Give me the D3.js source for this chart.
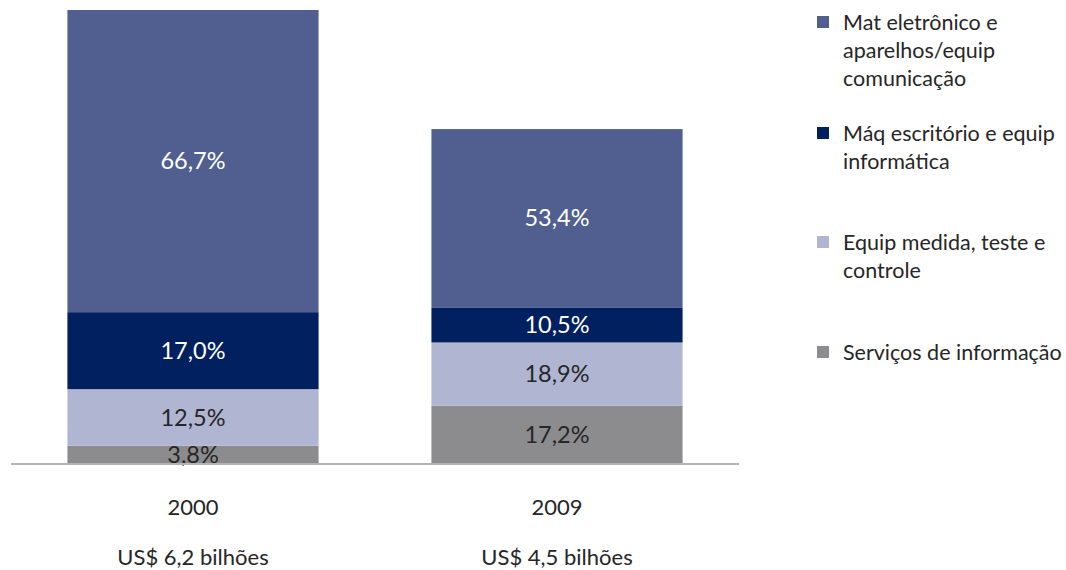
<!DOCTYPE html>
<html>
<head>
<meta charset="utf-8">
<script src="https://cdn.jsdelivr.net/npm/d3@7"></script>
<style>
  body { margin: 0; background: #fff; }
  text { font-family: Lato, "Open Sans", sans-serif; }
</style>
</head>
<body>
<div id="chart"></div>
<script>
// data
var years = ["2000", "2009"];
var totalLabels = ["US$ 6,2 bilhões", "US$ 4,5 bilhões"];
var barTotals = [6.2, 4.57];   // bar heights in US$ billions (as drawn)
var categories = [
  "Serviços de informação",
  "Equip medida, teste e controle",
  "Máq escritório e equip informática",
  "Mat eletrônico e aparelhos/equip comunicação"
];
var share2000 = [3.8, 12.5, 17.0, 66.7];
var share2009 = [17.2, 18.9, 10.5, 53.4];
var legendLines = [
  ["Mat eletrônico e", "aparelhos/equip", "comunicação"],
  ["Máq escritório e equip", "informática"],
  ["Equip medida, teste e", "controle"],
  ["Serviços de informação"]
];

var colors = ["#8c8c8e", "#b0b6d2", "#002060", "#505f8f"];
var labelColors = ["#262626", "#262626", "#ffffff", "#ffffff"];

var width = 1066, height = 570;
var svg = d3.select("#chart").append("svg")
  .attr("width", width)
  .attr("height", height);

var x = d3.scaleBand()
  .domain(years)
  .range([11, 739])
  .paddingInner(0.31)
  .paddingOuter(0.155);

var y = d3.scaleLinear()
  .domain([0, 6.2])
  .range([463, 10]);

// build rows: one per year, segment value = share * total
var rows = years.map(function (yr, i) {
  var shares = i == 0 ? share2000 : share2009;
  var row = { year: yr };
  categories.forEach(function (c, k) {
    row[c] = shares[k] / 100 * barTotals[i];
    row[c + "_pct"] = shares[k];
  });
  return row;
});

var stack = d3.stack().keys(categories);
var series = stack(rows);

var layer = svg.selectAll(".layer")
  .data(series)
  .enter()
  .append("g")
  .attr("class", "layer")
  .attr("fill", function (d, i) { return colors[i]; });

layer.selectAll("rect")
  .data(function (d) { return d; })
  .enter()
  .append("rect")
  .attr("x", function (d) { return x(d.data.year); })
  .attr("width", x.bandwidth())
  .attr("y", function (d) { return y(d[1]); })
  .attr("height", function (d) { return y(d[0]) - y(d[1]); });

layer.each(function (s, i) {
  d3.select(this).selectAll("text")
    .data(s)
    .enter()
    .append("text")
    .attr("x", function (d) { return x(d.data.year) + x.bandwidth() / 2; })
    .attr("y", function (d) { return (y(d[0]) + y(d[1])) / 2; })
    .attr("dy", "0.35em")
    .attr("text-anchor", "middle")
    .style("font-size", "23.5px")
    .attr("fill", labelColors[i])
    .text(function (d) {
      return d3.format(".1f")(d.data[s.key + "_pct"]).replace(".", ",") + "%";
    });
});

// baseline
svg.append("line")
  .attr("x1", 11).attr("x2", 739)
  .attr("y1", 464).attr("y2", 464)
  .attr("stroke", "#b3b3b3")
  .attr("stroke-width", 2);

// category labels
var xAxis = svg.append("g");
xAxis.selectAll(".year")
  .data(years)
  .enter()
  .append("text")
  .attr("x", function (d) { return x(d) + x.bandwidth() / 2; })
  .attr("y", 515)
  .attr("text-anchor", "middle")
  .style("font-size", "22px")
  .attr("fill", "#262626")
  .text(function (d) { return d; });

xAxis.selectAll(".total")
  .data(totalLabels)
  .enter()
  .append("text")
  .attr("x", function (d, i) { return x(years[i]) + x.bandwidth() / 2; })
  .attr("y", 565)
  .attr("text-anchor", "middle")
  .style("font-size", "22px")
  .attr("fill", "#262626")
  .text(function (d) { return d; });

// legend
var legendTop = [22, 133, 242, 352];
var legend = svg.selectAll(".legend")
  .data(legendLines)
  .enter()
  .append("g")
  .attr("class", "legend")
  .attr("transform", function (d, i) { return "translate(817," + legendTop[i] + ")"; });

legend.append("rect")
  .attr("x", 0).attr("y", -6)
  .attr("width", 12).attr("height", 12)
  .attr("fill", function (d, i) { return colors[3 - i]; });

legend.each(function (lines) {
  d3.select(this).selectAll("text")
    .data(lines)
    .enter()
    .append("text")
    .attr("x", 26)
    .attr("y", function (d, j) { return j * 28; })
    .attr("dy", "0.35em")
    .style("font-size", "21.5px")
    .attr("fill", "#262626")
    .text(function (d) { return d; });
});
</script>
</body>
</html>
